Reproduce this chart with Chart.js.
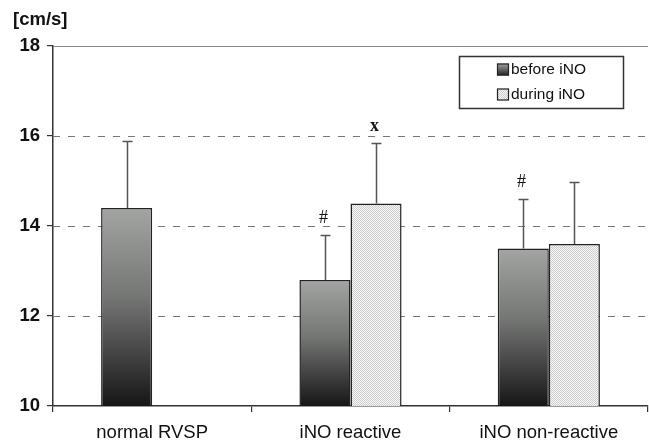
<!DOCTYPE html>
<html>
<head>
<meta charset="utf-8">
<script src="https://cdn.jsdelivr.net/npm/chart.js@4/dist/chart.umd.min.js"></script>
<style>
  html, body { margin: 0; padding: 0; background: #fff; }
  #wrap { width: 649px; height: 442px; position: relative; }
</style>
</head>
<body>
<div id="wrap"><canvas id="c" width="649" height="442"></canvas></div>
<script>
// ---- data ----
const categories = ["normal RVSP", "iNO reactive", "iNO non-reactive"];
const seriesNames = ["before iNO", "during iNO"];
const beforeValues = [14.4, 12.8, 13.5];
const duringValues = [null, 14.5, 13.6];
const beforeErrTop = [15.9, 13.8, 14.6];
const duringErrTop = [null, 15.85, 14.97];
const beforeMarks = ["", "#", "#"];
const duringMarks = ["", "x", ""];
const yTicks = [10, 12, 14, 16, 18];
const unitLabel = "[cm/s]";

// ---- fills ----
function makeStipple() {
  const p = document.createElement('canvas');
  p.width = 2; p.height = 2;
  const g = p.getContext('2d');
  g.fillStyle = '#f7f7f7'; g.fillRect(0, 0, 2, 2);
  g.fillStyle = '#cdcdcd'; g.fillRect(0, 0, 1, 1); g.fillRect(1, 1, 1, 1);
  return g.createPattern(p, 'repeat');
}
const stipple = makeStipple();

function gradFill(context) {
  const chart = context.chart;
  const area = chart.chartArea;
  if (!area || context.type !== 'data') return '#777';
  const v = context.raw;
  if (v == null) return '#777';
  const top = chart.scales.y.getPixelForValue(v);
  const g = chart.ctx.createLinearGradient(0, top, 0, area.bottom);
  g.addColorStop(0, '#a3a5a3');
  g.addColorStop(0.45, '#747674');
  g.addColorStop(1, '#161616');
  return g;
}

const SANS = '"Liberation Sans", Arial, sans-serif';

const extras = {
  id: 'extras',
  beforeDatasetsDraw(chart) {
    const ctx = chart.ctx, y = chart.scales.y, a = chart.chartArea;
    ctx.save();
    ctx.lineWidth = 1.2;
    yTicks.forEach(t => {
      if (t === yTicks[0]) return;
      const py = Math.round(y.getPixelForValue(t)) + 0.5;
      ctx.beginPath();
      if (t === yTicks[yTicks.length - 1]) {
        ctx.setLineDash([]);
        ctx.strokeStyle = '#888';
      } else {
        ctx.setLineDash([7, 8]);
        ctx.strokeStyle = '#777';
      }
      ctx.moveTo(a.left, py); ctx.lineTo(a.right, py);
      ctx.stroke();
    });
    ctx.restore();
  },
  afterDatasetsDraw(chart) {
    const ctx = chart.ctx, y = chart.scales.y;
    const errs = [beforeErrTop, duringErrTop];
    const marks = [beforeMarks, duringMarks];
    ctx.save();
    [0, 1].forEach(di => {
      const meta = chart.getDatasetMeta(di);
      meta.data.forEach((bar, i) => {
        const v = chart.data.datasets[di].data[i];
        if (v == null) return;
        const x = Math.round(bar.x) + 0.5;
        const yTop = y.getPixelForValue(v);
        const yErr = Math.round(y.getPixelForValue(errs[di][i])) + 0.5;
        ctx.strokeStyle = '#555';
        ctx.lineWidth = 1.5;
        ctx.beginPath();
        ctx.moveTo(x, yTop); ctx.lineTo(x, yErr);
        ctx.moveTo(x - 5, yErr); ctx.lineTo(x + 5, yErr);
        ctx.stroke();
        const m = marks[di][i];
        if (m) {
          ctx.fillStyle = '#111';
          ctx.font = (m === 'x' ? 'bold ' : '') + '18px "Liberation Serif", "DejaVu Serif", serif';
          ctx.textAlign = 'center';
          ctx.textBaseline = 'middle';
          ctx.fillText(m, x - 2, yErr - 17);
        }
      });
    });
    ctx.restore();
  },
  afterDraw(chart) {
    const ctx = chart.ctx;
    ctx.save();
    // unit label
    ctx.fillStyle = '#111';
    ctx.font = 'bold 18.5px ' + SANS;
    ctx.textAlign = 'left';
    ctx.textBaseline = 'middle';
    ctx.fillText(unitLabel, 13, 20);
    // legend box
    const lx = 459.5, ly = 56.5, lw = 164, lh = 52;
    ctx.fillStyle = '#fff';
    ctx.fillRect(lx, ly, lw, lh);
    ctx.strokeStyle = '#333';
    ctx.lineWidth = 1.5;
    ctx.strokeRect(lx, ly, lw, lh);
    ctx.font = '15.5px ' + SANS;
    ctx.textBaseline = 'middle';
    seriesNames.forEach((name, i) => {
      const cy = ly + 13 + i * 25;
      const bx = 497, bs = 12;
      let fill;
      if (i === 0) {
        const g = ctx.createLinearGradient(0, cy - bs / 2, 0, cy + bs / 2);
        g.addColorStop(0, '#a3a5a3'); g.addColorStop(1, '#222');
        fill = g;
      } else fill = stipple;
      ctx.fillStyle = fill;
      ctx.fillRect(bx, cy - bs / 2, bs, bs);
      ctx.strokeStyle = '#222'; ctx.lineWidth = 1.2;
      ctx.strokeRect(bx + 0.5, cy - bs / 2 + 0.5, bs - 1, bs - 1);
      ctx.fillStyle = '#111';
      ctx.textAlign = 'left';
      ctx.fillText(name, bx + bs + 2, cy);
    });
    ctx.restore();
  }
};

new Chart(document.getElementById('c'), {
  type: 'bar',
  data: {
    labels: categories,
    datasets: [
      { label: seriesNames[0], data: beforeValues, backgroundColor: gradFill,
        borderColor: '#222', borderWidth: 1.5, borderSkipped: 'bottom' },
      { label: seriesNames[1], data: duringValues, backgroundColor: stipple,
        borderColor: '#222', borderWidth: 1.5, borderSkipped: 'bottom' }
    ]
  },
  options: {
    responsive: false,
    animation: false,
    devicePixelRatio: 1,
    layout: { padding: { top: 46, right: 1, left: 0, bottom: 0 } },
    plugins: { legend: { display: false }, tooltip: { enabled: false }, title: { display: false } },
    datasets: { bar: { categoryPercentage: 0.515, barPercentage: 1.0 } },
    scales: {
      x: {
        offset: true,
        grid: { display: true, offset: true, drawOnChartArea: false, drawTicks: true,
                tickLength: 6, color: '#333', lineWidth: 1.2 },
        border: { display: true, color: '#333', width: 1.5 },
        ticks: { color: '#111', font: { family: SANS, size: 18.5 }, padding: 10, maxRotation: 0, autoSkip: false },
        afterFit(scale) { scale.height = 36; }
      },
      y: {
        min: 10, max: 18,
        afterBuildTicks(scale) { scale.ticks = yTicks.map(v => ({ value: v })); },
        grid: { display: true, drawOnChartArea: false, drawTicks: true, tickLength: 6, color: '#333', lineWidth: 1.2 },
        border: { display: true, color: '#333', width: 1.5 },
        ticks: { color: '#111', font: { family: SANS, size: 18.5, weight: 'bold' }, padding: 7 },
        afterFit(scale) { scale.width = 53; }
      }
    }
  },
  plugins: [extras]
});
</script>
</body>
</html>
